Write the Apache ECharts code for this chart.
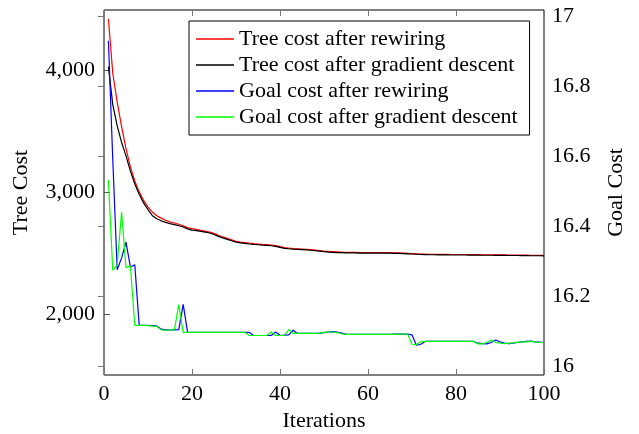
<!DOCTYPE html>
<html>
<head>
<meta charset="utf-8">
<script src="https://cdn.jsdelivr.net/npm/echarts@6/dist/echarts.min.js"></script>
<style>
  html, body { margin: 0; padding: 0; background: #fff; }
  #chart { width: 639px; height: 434px; }
</style>
</head>
<body>
<div id="chart"></div>
<script>
var legendNames = ['Tree cost after rewiring', 'Tree cost after gradient descent',
    'Goal cost after rewiring', 'Goal cost after gradient descent'];

// tree cost, iterations 1..100
var treeRewire = [
    4423, 3975, 3740, 3540, 3360, 3210, 3095, 3005, 2935, 2880,
    2840, 2810, 2790, 2772, 2760, 2750, 2740, 2728, 2712, 2704,
    2698, 2690, 2684, 2676, 2665, 2650, 2636, 2624, 2612, 2600,
    2594, 2590, 2585, 2581, 2578, 2575, 2573, 2570, 2565, 2556,
    2548, 2544, 2541, 2539, 2537, 2535, 2532, 2528, 2524, 2520,
    2517, 2515, 2513, 2511, 2510, 2509, 2509, 2508, 2508, 2508,
    2508, 2507, 2507, 2507, 2507, 2506, 2505, 2504, 2502, 2500,
    2498, 2496, 2495, 2494, 2494, 2493, 2493, 2493, 2492, 2492,
    2492, 2492, 2491, 2491, 2491, 2490, 2490, 2490, 2489, 2489,
    2489, 2488, 2488, 2488, 2487, 2487, 2486, 2486, 2486, 2485
];
var treeGD = [
    4030, 3720, 3545, 3410, 3300, 3175, 3070, 2985, 2915, 2860,
    2810, 2785, 2768, 2755, 2745, 2737, 2728, 2718, 2702, 2692,
    2688, 2681, 2675, 2668, 2656, 2641, 2628, 2616, 2605, 2593,
    2587, 2583, 2578, 2575, 2572, 2569, 2567, 2564, 2559, 2550,
    2543, 2539, 2536, 2534, 2532, 2530, 2527, 2523, 2519, 2515,
    2512, 2510, 2508, 2507, 2506, 2505, 2505, 2504, 2504, 2504,
    2504, 2503, 2503, 2503, 2503, 2502, 2501, 2500, 2498, 2496,
    2494, 2492, 2491, 2490, 2490, 2489, 2489, 2489, 2488, 2488,
    2488, 2488, 2487, 2487, 2487, 2486, 2486, 2486, 2485, 2485,
    2485, 2484, 2484, 2484, 2483, 2483, 2482, 2482, 2482, 2481
];

// goal cost, iterations 1..100
var goalRewire = [
    16.931, 16.59, 16.276, 16.31, 16.355, 16.284, 16.29, 16.117, 16.117, 16.117,
    16.116, 16.115, 16.106, 16.104, 16.104, 16.104, 16.105, 16.177, 16.097, 16.097,
    16.097, 16.097, 16.097, 16.097, 16.097, 16.097, 16.097, 16.097, 16.097, 16.097,
    16.097, 16.097, 16.097, 16.088, 16.088, 16.088, 16.088, 16.088, 16.098, 16.088,
    16.089, 16.09, 16.103, 16.094, 16.094, 16.094, 16.094, 16.094, 16.094, 16.096,
    16.098, 16.099, 16.098, 16.095, 16.092, 16.091, 16.091, 16.091, 16.091, 16.091,
    16.091, 16.091, 16.091, 16.091, 16.091, 16.092, 16.092, 16.092, 16.092, 16.09,
    16.06, 16.063, 16.071, 16.071, 16.071, 16.071, 16.071, 16.071, 16.071, 16.071,
    16.071, 16.071, 16.071, 16.071, 16.066, 16.065, 16.064, 16.068, 16.075, 16.07,
    16.066, 16.065, 16.066, 16.068, 16.07, 16.071, 16.072, 16.07, 16.069, 16.068
];
var goalGD = [
    16.533, 16.274, 16.29, 16.441, 16.282, 16.287, 16.117, 16.117, 16.117, 16.116,
    16.115, 16.114, 16.104, 16.103, 16.104, 16.104, 16.176, 16.097, 16.097, 16.097,
    16.097, 16.097, 16.097, 16.097, 16.097, 16.097, 16.097, 16.097, 16.097, 16.097,
    16.097, 16.097, 16.088, 16.088, 16.088, 16.088, 16.088, 16.098, 16.088, 16.088,
    16.088, 16.105, 16.094, 16.094, 16.094, 16.094, 16.094, 16.094, 16.095, 16.097,
    16.098, 16.098, 16.096, 16.093, 16.091, 16.091, 16.091, 16.091, 16.091, 16.091,
    16.091, 16.091, 16.091, 16.091, 16.091, 16.091, 16.092, 16.092, 16.092, 16.063,
    16.062, 16.07, 16.071, 16.071, 16.071, 16.071, 16.071, 16.071, 16.071, 16.071,
    16.071, 16.071, 16.071, 16.071, 16.064, 16.064, 16.068, 16.075, 16.068, 16.066,
    16.065, 16.066, 16.067, 16.069, 16.07, 16.07, 16.071, 16.07, 16.068, 16.068
];

var xTicks = [0, 20, 40, 60, 80, 100];
var treeTicks = [2000, 3000, 4000];
var goalTicks = [16, 16.2, 16.4, 16.6, 16.8, 17];

function pairs(values) {
    return values.map(function (v, i) { return [i + 1, v]; });
}

var font = 'Liberation Serif';
var fs = 22;
var myChart = echarts.init(document.getElementById('chart'));

var option = {
    animation: false,
    backgroundColor: '#fff',
    grid: {
        left: 104, right: 95, top: 10, bottom: 59,
        show: true, borderColor: '#000', borderWidth: 1,
        outerBoundsMode: 'none'
    },
    legend: {
        orient: 'vertical',
        left: 189, top: 21,
        icon: 'rect',
        itemWidth: 38, itemHeight: 1.5,
        itemGap: 4,
        padding: [7, 12, 7, 7],
        backgroundColor: '#fff',
        borderColor: '#000', borderWidth: 1,
        textStyle: { fontFamily: font, fontSize: fs, color: '#000', lineHeight: 22 },
        data: legendNames
    },
    xAxis: [
        {
            type: 'value', min: 0, max: 100, interval: 20,
            name: 'Iterations', nameLocation: 'middle', nameGap: 35,
            nameTextStyle: { fontFamily: font, fontSize: fs, color: '#000' },
            axisLine: { show: false },
            axisTick: { inside: true, length: 6, customValues: xTicks, lineStyle: { color: '#777' } },
            axisLabel: { fontFamily: font, fontSize: fs, color: '#000', margin: 8, customValues: xTicks },
            splitLine: { show: false }
        },
        {
            type: 'value', position: 'top', min: 0, max: 100, interval: 20,
            axisLine: { show: false },
            axisTick: { inside: true, length: 6, customValues: xTicks, lineStyle: { color: '#777' } },
            axisLabel: { show: false },
            splitLine: { show: false }
        }
    ],
    yAxis: [
        {
            type: 'value', position: 'left', min: 1505, max: 4495,
            name: 'Tree Cost', nameLocation: 'middle', nameGap: 72, nameRotate: 90,
            nameTextStyle: { fontFamily: font, fontSize: fs, color: '#000' },
            axisLine: { show: false },
            axisTick: { inside: true, length: 6, customValues: treeTicks, lineStyle: { color: '#555' } },
            axisLabel: {
                fontFamily: font, fontSize: fs, color: '#000', margin: 9,
                customValues: treeTicks,
                formatter: function (v) { return v.toLocaleString('en-US'); }
            },
            splitLine: { show: false }
        },
        {
            type: 'value', position: 'right', min: 15.975, max: 17.019,
            name: 'Goal Cost', nameLocation: 'middle', nameGap: 61, nameRotate: 90,
            nameTextStyle: { fontFamily: font, fontSize: fs, color: '#000' },
            axisLine: { show: false },
            axisTick: { inside: true, length: 6, customValues: goalTicks, lineStyle: { color: '#777' } },
            axisLabel: {
                fontFamily: font, fontSize: fs, color: '#000', margin: 8,
                customValues: goalTicks,
                formatter: function (v) { return String(Math.round(v * 10) / 10); }
            },
            splitLine: { show: false }
        }
    ],
    series: [
        {
            name: legendNames[0], type: 'line', yAxisIndex: 0, showSymbol: false,
            lineStyle: { color: '#ff0000', width: 1.2 }, itemStyle: { color: '#ff0000' },
            data: pairs(treeRewire)
        },
        {
            name: legendNames[1], type: 'line', yAxisIndex: 0, showSymbol: false,
            lineStyle: { color: '#000000', width: 1.2 }, itemStyle: { color: '#000000' },
            data: pairs(treeGD)
        },
        {
            name: legendNames[2], type: 'line', yAxisIndex: 1, showSymbol: false,
            lineStyle: { color: '#0000ff', width: 1.2 }, itemStyle: { color: '#0000ff' },
            data: pairs(goalRewire)
        },
        {
            name: legendNames[3], type: 'line', yAxisIndex: 1, showSymbol: false,
            lineStyle: { color: '#00ff00', width: 1.2 }, itemStyle: { color: '#00ff00' },
            data: pairs(goalGD)
        }
    ]
};
myChart.setOption(option);
</script>
</body>
</html>
